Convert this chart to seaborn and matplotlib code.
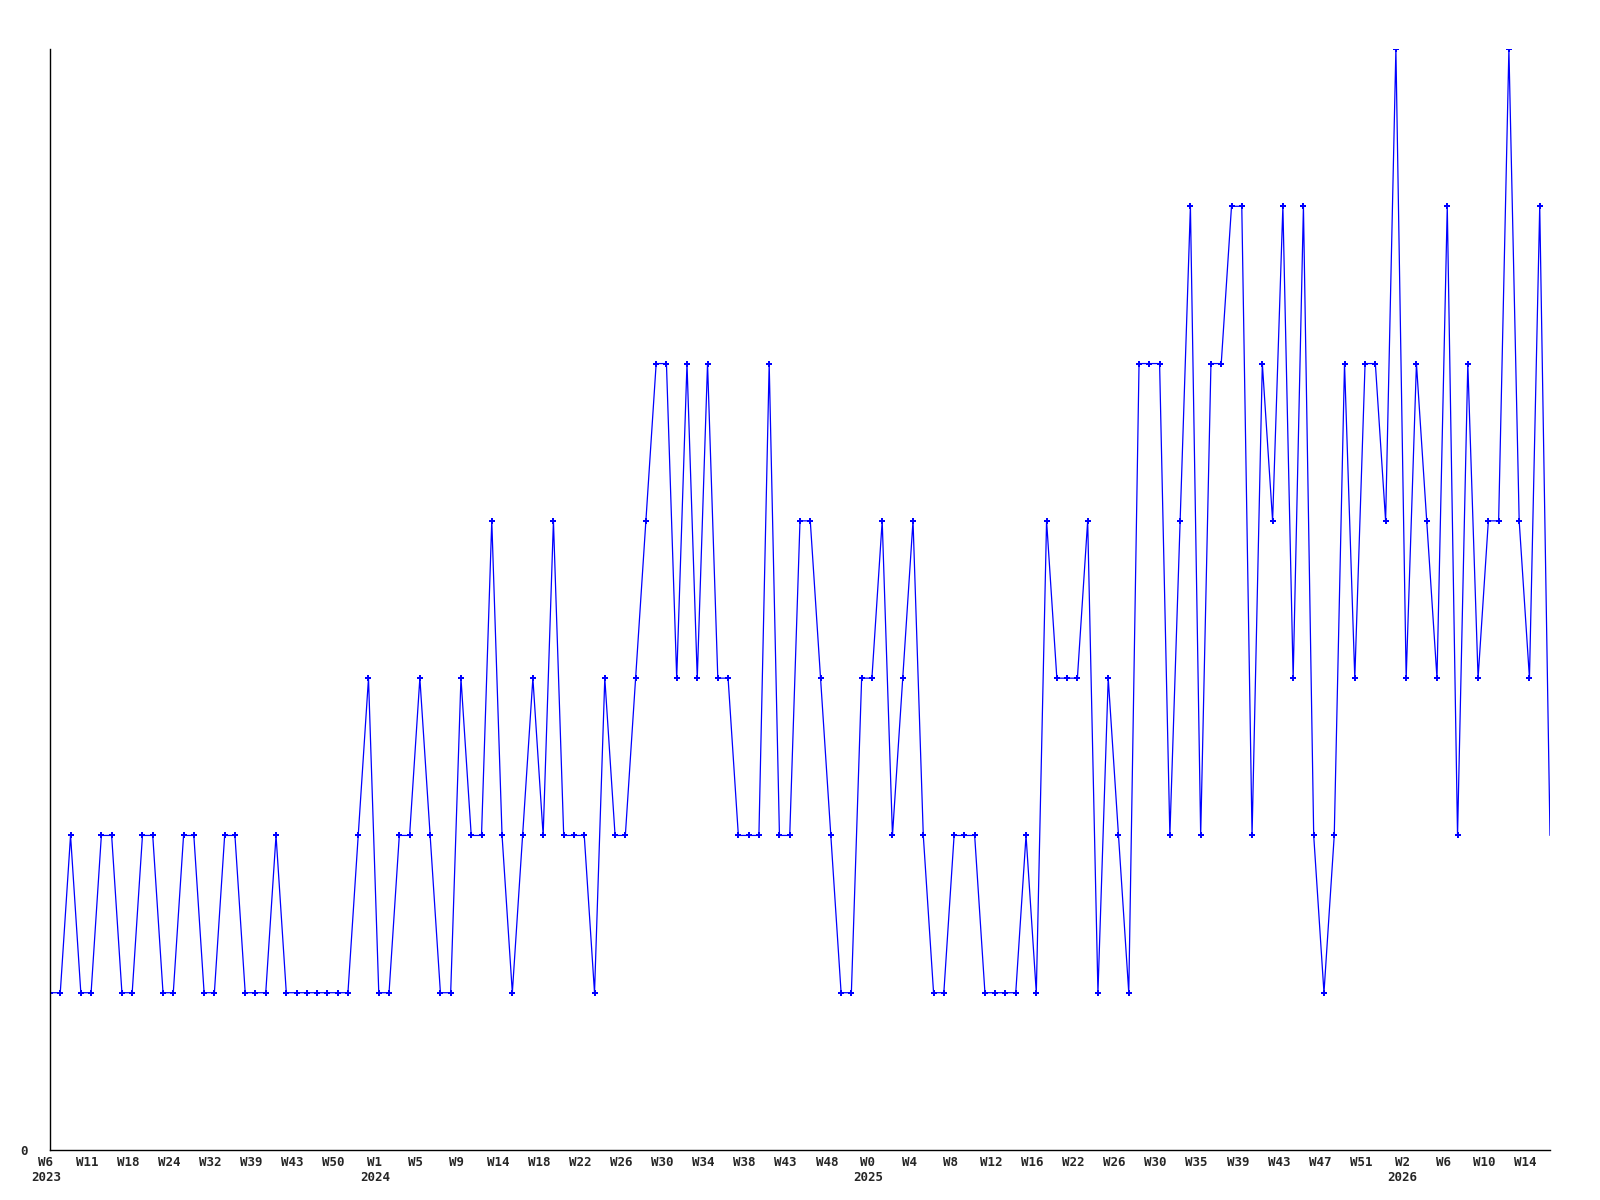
import seaborn as sns
import pandas as pd
import matplotlib.pyplot as plt
from matplotlib.transforms import ScaledTranslation


# Значения по неделям (по одной точке на неделю)
values = [1, 1, 2, 1, 1, 2, 2, 1, 1, 2, 2, 1, 1, 2, 2, 1, 1, 2, 2, 1,
          1, 1, 2, 1, 1, 1, 1, 1, 1, 1, 2, 3, 1, 1, 2, 2, 3, 2, 1, 1,
          3, 2, 2, 4, 2, 1, 2, 3, 2, 4, 2, 2, 2, 1, 3, 2, 2, 3, 4, 5,
          5, 3, 5, 3, 5, 3, 3, 2, 2, 2, 5, 2, 2, 4, 4, 3, 2, 1, 1, 3,
          3, 4, 2, 3, 4, 2, 1, 1, 2, 2, 2, 1, 1, 1, 1, 2, 1, 4, 3, 3,
          3, 4, 1, 3, 2, 1, 5, 5, 5, 2, 4, 6, 2, 5, 5, 6, 6, 2, 5, 4,
          6, 3, 6, 2, 1, 2, 5, 3, 5, 5, 4, 7, 3, 5, 4, 3, 6, 2, 5, 3,
          4, 4, 7, 4, 3, 6, 2]

tick_labels = ['W6\n2023', 'W11', 'W18', 'W24', 'W32', 'W39', 'W43', 'W50',
               'W1\n2024', 'W5', 'W9', 'W14', 'W18', 'W22', 'W26', 'W30',
               'W34', 'W38', 'W43', 'W48',
               'W0\n2025', 'W4', 'W8', 'W12', 'W16', 'W22', 'W26', 'W30',
               'W35', 'W39', 'W43', 'W47', 'W51',
               'W2\n2026', 'W6', 'W10', 'W14']

df = pd.DataFrame({'week': range(len(values)), 'count': values})

sns.set_style("white")
plt.rcParams['font.family'] = ['DejaVu Sans Mono']

fig = plt.figure(figsize=(16, 12), dpi=100)
ax = fig.add_axes([50 / 1600, 50 / 1200, 1500 / 1600, 1101 / 1200])

# последний отрезок без маркера
sns.lineplot(data=df, x='week', y='count', ax=ax, color='#0000ff', linewidth=0.9,
             marker='P', markersize=5, markeredgewidth=0,
             markevery=list(range(len(values) - 1)))

ax.set_xlim(0, len(values) - 1)
ax.set_ylim(0, 7)
ax.set_xticks(range(0, len(values), 4))
ax.set_xticklabels(tick_labels, fontsize=9, fontweight='bold', linespacing=1.2)
ax.set_yticks([0])
ax.set_yticklabels(['0'], fontsize=9, fontweight='bold')
ax.tick_params(axis='x', length=0, pad=4)
ax.tick_params(axis='y', length=0, pad=16)
ax.set_xlabel('')
ax.set_ylabel('')

# подписи чуть левее точек, как в оригинале
shift = ScaledTranslation(-4 / 100, 0, fig.dpi_scale_trans)
for lbl in ax.get_xticklabels():
    lbl.set_transform(lbl.get_transform() + shift)

for side in ['top', 'right']:
    ax.spines[side].set_visible(False)
for side in ['left', 'bottom']:
    ax.spines[side].set_color('black')
    ax.spines[side].set_linewidth(1)

plt.savefig('out.png', dpi=100)
